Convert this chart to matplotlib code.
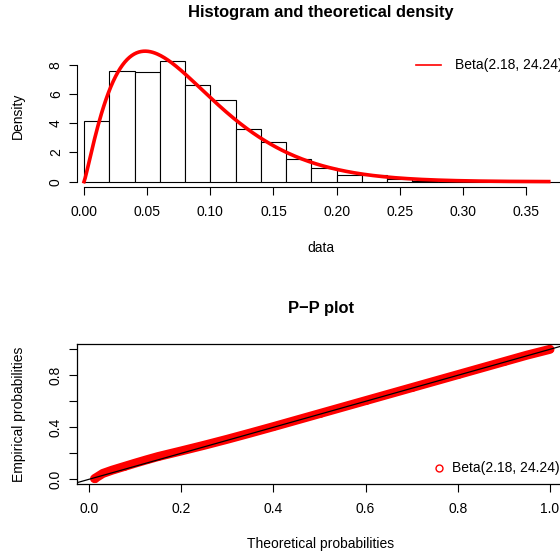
import math
import numpy as np
import matplotlib
matplotlib.use('Agg')
import matplotlib.pyplot as plt

plt.rcParams['font.family'] = ['Liberation Sans', 'DejaVu Sans']

# histogram (density per bin of width 0.02)
bin_edges = [0.00, 0.02, 0.04, 0.06, 0.08, 0.10, 0.12, 0.14, 0.16, 0.18, 0.20,
             0.22, 0.24, 0.26, 0.28, 0.30, 0.32, 0.34, 0.36, 0.38]
bin_density = [4.15, 7.55, 7.52, 8.25, 6.59, 5.57, 3.61, 2.70, 1.57, 0.95,
               0.49, 0.49, 0.18, 0.07, 0.07, 0.0, 0.0, 0.0, 0.0]

# fitted beta parameters shown in the legend
shape1, shape2 = 2.18, 24.24
data_max = 0.368

# P-P plot points (theoretical vs empirical)
pp_theo = [0.012, 0.03, 0.05, 0.075, 0.10, 0.125, 0.15, 0.20, 0.25, 0.30, 0.35,
           0.40, 0.50, 0.60, 0.70, 0.80, 0.90, 0.95, 1.00]
pp_emp = [0.005, 0.045, 0.07, 0.097, 0.124, 0.15, 0.175, 0.218, 0.262, 0.308, 0.356,
          0.405, 0.505, 0.605, 0.705, 0.805, 0.905, 0.955, 1.00]

legend_label = 'Beta(%.2f, %.2f)' % (shape1, shape2)


def beta_pdf(x, a, b):
    logB = math.lgamma(a) + math.lgamma(b) - math.lgamma(a + b)
    return np.exp((a - 1) * np.log(x) + (b - 1) * np.log1p(-x) - logB)


W, H = 560, 559
fig = plt.figure(figsize=(W / 100, H / 100), dpi=100)
fs = 10
fs_title = 11.9

def px_ax(left, top, right, bottom):
    return fig.add_axes([left / W, 1 - bottom / H, (right - left) / W, (bottom - top) / H])

# ---- histogram and density ----
ax1 = px_ax(76.7, 45, 560, 186.8)
ax1.set_xlim(-0.0058, 0.3769)
ax1.set_ylim(-0.35, 9.35)
lefts = bin_edges[:-1]
ax1.bar(lefts, bin_density, width=0.02, align='edge', facecolor='white',
        edgecolor='black', linewidth=0.8)
xs = np.linspace(1e-6, data_max, 400)
ax1.plot(xs, beta_pdf(xs, shape1, shape2), color='red', lw=2.6, clip_on=False)
for s in ['top', 'right']:
    ax1.spines[s].set_visible(False)
ax1.spines['left'].set_bounds(0, 8)
ax1.spines['bottom'].set_bounds(0, 0.35)
ax1.set_xticks([0.0, 0.05, 0.10, 0.15, 0.20, 0.25, 0.30, 0.35])
ax1.set_xticklabels(['0.00', '0.05', '0.10', '0.15', '0.20', '0.25', '0.30', '0.35'])
ax1.set_yticks([0, 2, 4, 6, 8])
ax1.tick_params(axis='x', length=6, width=0.8, pad=7, labelsize=fs)
ax1.tick_params(axis='y', length=6, width=0.8, pad=4, labelsize=fs, labelrotation=90)
for t in ax1.get_yticklabels():
    t.set_va('center')
ax1.plot([0.263, 0.283], [8.0, 8.0], color='red', lw=1.2, clip_on=False)
ax1.text(0.2935, 8.0, legend_label, fontsize=fs, va='center', ha='left', clip_on=False)

fig.text(321 / W, 1 - 17 / H, 'Histogram and theoretical density', ha='center',
         va='baseline', fontsize=fs_title, fontweight='bold')
fig.text(321 / W, 1 - 252 / H, 'data', ha='center', va='baseline', fontsize=fs)
fig.text(18 / W, 1 - 116 / H, 'Density', ha='center', va='center', rotation=90, fontsize=fs)

# ---- P-P plot ----
ax2 = px_ax(76.7, 344, 560, 484.3)
ax2.set_xlim(-0.0267, 1.0217)
ax2.set_ylim(-0.0385, 1.0408)
ax2.plot(pp_theo, pp_emp, color='red', lw=6.5, solid_capstyle='round',
         solid_joinstyle='round', zorder=2)
ax2.plot(pp_theo, pp_emp, 'o', mfc='none', mec='red', ms=4, mew=1, zorder=2)
ax2.axline((0, 0), slope=1, color='black', lw=0.9, zorder=3)
ax2.spines['right'].set_visible(False)
for s in ['top', 'left', 'bottom']:
    ax2.spines[s].set_linewidth(0.9)
ax2.set_xticks([0.0, 0.2, 0.4, 0.6, 0.8, 1.0])
ax2.set_yticks([0.0, 0.2, 0.4, 0.6, 0.8, 1.0])
ax2.set_yticklabels(['0.0', '', '0.4', '', '0.8', ''])
ax2.tick_params(axis='x', length=6, width=0.8, pad=7, labelsize=fs)
ax2.tick_params(axis='y', length=6, width=0.8, pad=4, labelsize=fs, labelrotation=90)
for t in ax2.get_yticklabels():
    t.set_va('center')
ax2.plot([0.76], [0.085], 'o', mfc='none', mec='red', ms=5, mew=1)
ax2.text(0.788, 0.085, legend_label, fontsize=fs, va='center', ha='left')

fig.text(321 / W, 1 - 313.3 / H, 'P\u2212P plot', ha='center', va='baseline',
         fontsize=fs_title, fontweight='bold')
fig.text(321 / W, 1 - 548 / H, 'Theoretical probabilities', ha='center',
         va='baseline', fontsize=fs)
fig.text(19 / W, 1 - 414 / H, 'Empirical probabilities', ha='center', va='center',
         rotation=90, fontsize=fs)

fig.savefig('out.png', dpi=100)
